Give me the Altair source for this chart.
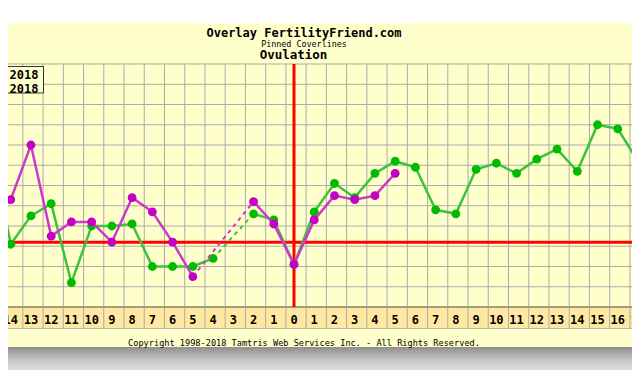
import altair as alt
import pandas as pd

# ---------------- data ----------------
days = list(range(-15, 18))          # days relative to ovulation
cycle_green = [97.82, 97.31, 97.45, 97.51, 97.12, 97.40, 97.40, 97.41, 97.20, 97.20,
               97.20, 97.24, None, 97.46, 97.43, 97.21, 97.47, 97.61, 97.54, 97.66,
               97.72, 97.69, 97.48, 97.46, 97.68, 97.71, 97.66, 97.73, 97.78, 97.67,
               97.90, 97.88, 97.72]
cycle_magenta = [97.50, 97.53, 97.80, 97.35, 97.42, 97.42, 97.32, 97.54, 97.47, 97.32,
                 97.15, None, None, 97.52, 97.41, 97.21, 97.43, 97.55, 97.53, 97.55,
                 97.66, None, None, None, None, None, None, None, None, None,
                 None, None, None]
coverline = 97.32
ovulation_day = 0
temp_gridlines = [97.0, 97.1, 97.2, 97.3, 97.4, 97.5, 97.6, 97.7, 97.8, 97.9, 98.0, 98.1, 98.2]
series_names = ["cycle 1", "cycle 2"]
legend_labels = [". 2018", ". 2018"]
title_text = "Overlay FertilityFriend.com"
subtitle_text = "Pinned Coverlines"
heading_text = "Ovulation"
copyright_text = "Copyright 1998-2018 Tamtris Web Services Inc. - All Rights Reserved."

# ---------------- layout / style ----------------
W, H = 624, 243
FONT = "DejaVu Sans Mono"
xs = alt.Scale(domain=[-14.134, 16.704], nice=False, zero=False)
ys = alt.Scale(domain=[97.0, 98.2], nice=False, zero=False)
line_colors = {"cycle 1": "#3DC23D", "cycle 2": "#CC3ACC"}
point_colors = {"cycle 1": "#00BB00", "cycle 2": "#C400C4"}
one = alt.Data(values=[{"a": 1}])


def solid_rows(name, vals):
    rows, seg, prev = [], 0, False
    for d, v in zip(days, vals):
        if v is None:
            if prev:
                seg += 1
            prev = False
            continue
        rows.append({"day": d, "temp": v, "seg": f"{name}-{seg}"})
        prev = True
    return pd.DataFrame(rows)


def bridge_rows(name, vals):
    defined = [(d, v) for d, v in zip(days, vals) if v is not None]
    rows = []
    for (d1, v1), (d2, v2) in zip(defined, defined[1:]):
        if d2 - d1 > 1:
            rows.append({"day": d1, "temp": v1, "seg": f"{name}-{d1}"})
            rows.append({"day": d2, "temp": v2, "seg": f"{name}-{d1}"})
    return pd.DataFrame(rows)


def text_layer(txt, x, y, size, weight="normal", align="center"):
    return alt.Chart(one).mark_text(font=FONT, fontSize=size, fontWeight=weight,
                                    align=align, baseline="middle", color="black").encode(
        x=alt.value(x), y=alt.value(y), text=alt.value(txt))


panel = alt.Chart(one).mark_rect(color="#FFFFCC").encode(
    x=alt.value(-20), x2=alt.value(W + 20), y=alt.value(-41), y2=alt.value(283))
shadow = alt.Chart(one).mark_rect(
    color=alt.LinearGradient(gradient="linear",
                             stops=[alt.GradientStop(color="#8E8E8E", offset=0),
                                    alt.GradientStop(color="#C8C8C8", offset=0.5),
                                    alt.GradientStop(color="#E6E6E6", offset=1)],
                             x1=0, x2=0, y1=0, y2=1)).encode(
    x=alt.value(-20), x2=alt.value(W + 20), y=alt.value(283), y2=alt.value(310))
strip = alt.Chart(one).mark_rect(color="#FFE9A2").encode(
    x=alt.value(-20), x2=alt.value(W + 20), y=alt.value(243), y2=alt.value(264))

vgrid = alt.Chart(pd.DataFrame({"b": [d + 0.6 for d in days]})).mark_rule(
    color="#ABABAB", strokeWidth=1).encode(
    x=alt.X("b:Q", scale=xs, axis=None), y=alt.value(0), y2=alt.value(264))
hgrid = alt.Chart(pd.DataFrame({"t": temp_gridlines})).mark_rule(
    color="#ABABAB", strokeWidth=1).encode(
    y=alt.Y("t:Q", scale=ys, axis=None), x=alt.value(0), x2=alt.value(W))
bottom_border = alt.Chart(one).mark_rule(color="#A39D78", strokeWidth=2).encode(
    y=alt.value(243), x=alt.value(0), x2=alt.value(W))
strip_border = alt.Chart(one).mark_rule(color="#B8B8B8", strokeWidth=1).encode(
    y=alt.value(264.5), x=alt.value(0), x2=alt.value(W))

red_h = alt.Chart(pd.DataFrame({"t": [coverline]})).mark_rule(
    color="#FF0000", strokeWidth=3).encode(
    y=alt.Y("t:Q", scale=ys, axis=None), x=alt.value(0), x2=alt.value(W))
red_v = alt.Chart(pd.DataFrame({"d": [ovulation_day]})).mark_rule(
    color="#FF0000", strokeWidth=3).encode(
    x=alt.X("d:Q", scale=xs, axis=None), y=alt.value(0), y2=alt.value(243))

series_layers = []
for name, vals in zip(series_names, [cycle_green, cycle_magenta]):
    sdf = solid_rows(name, vals)
    bdf = bridge_rows(name, vals)
    enc = dict(x=alt.X("day:Q", scale=xs, axis=None),
               y=alt.Y("temp:Q", scale=ys, axis=None),
               detail="seg:N")
    series_layers.append(alt.Chart(sdf).mark_line(
        color=line_colors[name], strokeWidth=2.5).encode(**enc))
    if len(bdf):
        series_layers.append(alt.Chart(bdf).mark_line(
            color=line_colors[name], strokeWidth=2, strokeDash=[4, 4]).encode(**enc))
    series_layers.append(alt.Chart(sdf).mark_point(
        shape="circle", filled=True, opacity=1, size=78,
        color=point_colors[name]).encode(
        x=alt.X("day:Q", scale=xs, axis=None), y=alt.Y("temp:Q", scale=ys, axis=None)))

labels = alt.Chart(pd.DataFrame({"day": days, "lab": [str(abs(d)) for d in days]})).mark_text(
    font=FONT, fontSize=12, fontWeight="bold", baseline="middle", align="center",
    color="black").encode(
    x=alt.X("day:Q", scale=xs, axis=None), y=alt.value(255.5), text="lab:N")

legend_box = alt.Chart(one).mark_rect(fill="#FFFFCC", stroke="#333333", strokeWidth=1).encode(
    x=alt.value(-10), x2=alt.value(35.5), y=alt.value(2.5), y2=alt.value(29))
legend_t1 = text_layer(legend_labels[0], 30.5, 11, 12, "bold", "right")
legend_t2 = text_layer(legend_labels[1], 30.5, 24.5, 12, "bold", "right")

title = text_layer(title_text, 296, -31.5, 12, "bold")
subtitle = text_layer(subtitle_text, 296, -20.5, 8.4)
heading = text_layer(heading_text, 285.5, -9.5, 12.5, "bold")
copyright_t = text_layer(copyright_text, 296, 279, 8.6)

chart = alt.layer(
    panel, shadow, strip, vgrid, hgrid, bottom_border, strip_border, red_h, red_v,
    *series_layers, labels, legend_box, legend_t1, legend_t2,
    title, subtitle, heading, copyright_t
).properties(
    width=W, height=H,
    autosize=alt.AutoSizeParams(type="none"),
    padding={"left": 0, "top": 56, "right": 0, "bottom": 63},
).configure(background="white").configure_view(stroke=None)

chart.save("out.html", embed_options={"renderer": "svg", "actions": False})
